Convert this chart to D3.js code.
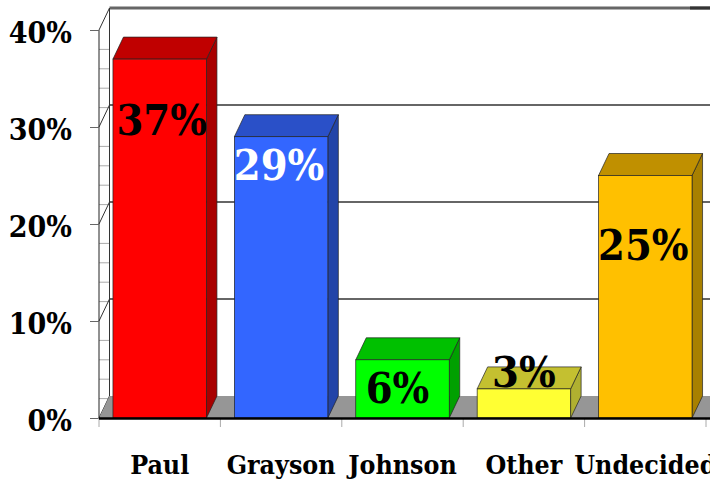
<!DOCTYPE html>
<html>
<head>
<meta charset="utf-8">
<script src="https://cdn.jsdelivr.net/npm/d3@7"></script>
<style>
  html, body { margin: 0; background: #fff; overflow: hidden; }
  text { font-family: "DejaVu Serif Condensed", "DejaVu Serif", serif; font-weight: bold; }
</style>
</head>
<body>
<div id="chart"></div>
<script>
// poll numbers
const candidates = ["Paul", "Grayson", "Johnson", "Other", "Undecided"];
const percents = [37, 29, 6, 3, 25];
const yTicks = [0, 10, 20, 30, 40];
const minorTicks = d3.range(0, 41, 2);

// colours per bar
const frontColors = ["#ff0000", "#3366ff", "#00ff00", "#ffff33", "#ffc000"];
const topColors = ["#c00000", "#2a50c8", "#00c000", "#c4c030", "#c09000"];
const sideColors = ["#a80000", "#2244a8", "#00a000", "#b0b030", "#a88000"];
const labelColors = ["#000", "#fff", "#000", "#000", "#000"];

// label baseline from the bar top (3% sits above its bar), and nudge from bar centre
const labelOffsets = [76, 43, 43, -2, 84];
const labelShifts = [2, -2, -5, 0, -2];

const width = 710, height = 479;
const margin = { top: 30, left: 99, bottom: 61, right: 4 };
const depthX = 10.5, depthY = 22;

const x = d3.scaleBand()
    .domain(candidates)
    .range([margin.left, width - margin.right])
    .paddingInner(0.23)
    .paddingOuter(0.115);
const step = x.step();

const y = d3.scaleLinear()
    .domain([0, 40])
    .range([height - margin.bottom, margin.top]);

const svg = d3.select("#chart").append("svg")
    .attr("width", width)
    .attr("height", height)
    .style("display", "block");

const baseY = y(0);
const wallX = margin.left + depthX;

// Back wall gridlines
svg.append("g").selectAll("line")
    .data(yTicks.slice(1))
    .join("line")
    .attr("x1", wallX)
    .attr("x2", width)
    .attr("y1", d => y(d) - depthY)
    .attr("y2", d => y(d) - depthY)
    .attr("stroke", "#666")
    .attr("stroke-width", d => d === 40 ? 3 : 2);

svg.append("line")
    .attr("x1", 690).attr("x2", width)
    .attr("y1", y(40) - depthY).attr("y2", y(40) - depthY)
    .attr("stroke", "#333")
    .attr("stroke-width", 3);

// Left wall: minor ticks and diagonals
svg.append("g").selectAll("line")
    .data(minorTicks.filter(d => !yTicks.includes(d)))
    .join("line")
    .attr("x1", margin.left)
    .attr("x2", wallX)
    .attr("y1", d => y(d))
    .attr("y2", d => y(d))
    .attr("stroke", "#aaa");

svg.append("g").selectAll("line")
    .data(yTicks)
    .join("line")
    .attr("x1", margin.left)
    .attr("x2", wallX)
    .attr("y1", d => y(d))
    .attr("y2", d => y(d) - depthY)
    .attr("stroke", "#333");

svg.append("line")
    .attr("x1", wallX).attr("x2", wallX)
    .attr("y1", y(40) - depthY).attr("y2", baseY - depthY)
    .attr("stroke", "#333");

// Floor
svg.append("polygon")
    .attr("points", [
        [margin.left, baseY],
        [wallX, baseY - depthY],
        [width, baseY - depthY],
        [width, baseY]
    ].join(" "))
    .attr("fill", "#969696");

// Bars
const bars = svg.append("g").selectAll("g")
    .data(candidates)
    .join("g");

bars.append("polygon")
    .attr("points", (d, i) => {
        const x1 = x(d) + x.bandwidth(), t = y(percents[i]);
        return [[x1, t], [x1 + depthX, t - depthY], [x1 + depthX, baseY - depthY], [x1, baseY]].join(" ");
    })
    .attr("fill", (d, i) => sideColors[i])
    .attr("stroke", "#222")
    .attr("stroke-width", 0.7);

bars.append("polygon")
    .attr("points", (d, i) => {
        const x0 = x(d), x1 = x0 + x.bandwidth(), t = y(percents[i]);
        return [[x0, t], [x0 + depthX, t - depthY], [x1 + depthX, t - depthY], [x1, t]].join(" ");
    })
    .attr("fill", (d, i) => topColors[i])
    .attr("stroke", "#222")
    .attr("stroke-width", 0.7);

bars.append("rect")
    .attr("x", d => x(d))
    .attr("y", (d, i) => y(percents[i]))
    .attr("width", x.bandwidth())
    .attr("height", (d, i) => baseY - y(percents[i]))
    .attr("fill", (d, i) => frontColors[i])
    .attr("stroke", "#222")
    .attr("stroke-width", 0.7);

// Data labels
bars.append("text")
    .attr("x", (d, i) => x(d) + x.bandwidth() / 2 + labelShifts[i])
    .attr("y", (d, i) => y(percents[i]) + labelOffsets[i])
    .attr("text-anchor", "middle")
    .attr("font-size", 43)
    .attr("fill", (d, i) => labelColors[i])
    .text((d, i) => percents[i] + "%");

// Add y-axis
const yAxis = svg.append("g")
    .attr("transform", `translate(${margin.left},0)`)
    .call(d3.axisLeft(y).tickValues(yTicks).tickSize(9).tickPadding(18).tickFormat(d => d + "%"));
yAxis.select(".domain").attr("stroke", "#222").attr("d", `M0,${y(40)}V${baseY}`);
yAxis.selectAll("line").attr("stroke", "#666");
yAxis.selectAll("text")
    .attr("font-size", 30)
    .attr("font-family", null)
    .attr("fill", "#000")
    .attr("transform", "translate(0,3)");

// Add x-axis
const xAxis = svg.append("g")
    .attr("transform", `translate(0,${baseY})`)
    .call(d3.axisBottom(x).tickSize(9).tickPadding(28));
xAxis.select(".domain").remove();
xAxis.selectAll("line").attr("transform", `translate(${-step / 2},0)`).attr("stroke", "#aaa");
xAxis.selectAll("text")
    .attr("font-size", 26.5)
    .attr("font-family", null)
    .attr("fill", "#000");

svg.append("line")
    .attr("x1", width - margin.right).attr("x2", width - margin.right)
    .attr("y1", baseY).attr("y2", baseY + 9)
    .attr("stroke", "#aaa");

svg.append("line")
    .attr("x1", margin.left).attr("x2", width)
    .attr("y1", baseY + 0.5).attr("y2", baseY + 0.5)
    .attr("stroke", "#000")
    .attr("stroke-width", 2.5);
</script>
</body>
</html>
